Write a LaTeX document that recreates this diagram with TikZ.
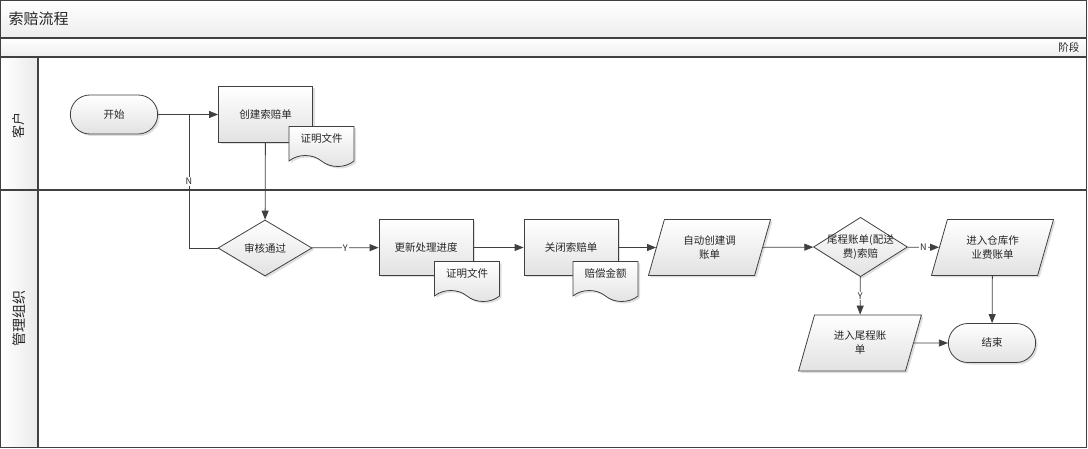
\documentclass[tikz,border=0pt]{standalone}
\usepackage{fontspec}
\setmainfont{Noto Sans CJK SC}
\usetikzlibrary{arrows.meta,positioning,shapes.geometric,shapes.misc,shapes.symbols,shadows}

\definecolor{linegray}{HTML}{404040}
\definecolor{fillgray}{HTML}{E2E2E2}
\definecolor{textgray}{HTML}{262626}

\begin{document}
\begin{tikzpicture}[x=1pt,y=-1pt,font=\fontsize{10.5}{14}\selectfont,text=textgray]

		\tikzstyle{frame}=[draw=linegray,line width=1.1pt]
		\tikzstyle{band}=[top color=white,bottom color=black!7]
		\tikzstyle{lanehead}=[left color=white,right color=black!8]
		\tikzstyle{shade}=[top color=white,bottom color=fillgray,draw=linegray,line width=.8pt,
			drop shadow={shadow xshift=2pt,shadow yshift=-2pt,opacity=.25}]
		\tikzstyle{process}=[rectangle,shade,minimum width=94,minimum height=56,align=center]
		\tikzstyle{terminal}=[rounded rectangle,shade,minimum width=94,minimum height=39]
		\tikzstyle{decision}=[diamond,shade,minimum width=94,minimum height=56,inner sep=-8pt,align=center]
		\tikzstyle{io}=[trapezium,trapezium left angle=71,trapezium right angle=109,trapezium stretches=true,
			shade,minimum width=123,minimum height=56,align=center]
		\tikzstyle{doc}=[tape,tape bend top=none,tape bend bottom=out and in,tape bend height=11pt,
			shade,minimum width=65,minimum height=40,text depth=5pt]
		\tikzstyle{flow}=[draw=linegray,line width=.8pt,-{Triangle[length=9pt,width=7pt]}]
		\tikzstyle{line}=[draw=linegray,line width=.8pt]
		\tikzstyle{tag}=[fill=white,inner sep=1pt,font=\fontsize{9}{10}\selectfont]

		\useasboundingbox (0,0) rectangle (1088,449);

		% swimlane frame
		\fill[band] (0.5,0.5) rectangle (1086.5,38);
		\fill[band] (0.5,38) rectangle (1086.5,57);
		\fill[lanehead] (0.5,57) rectangle (38,447.5);
		\draw[frame] (0.5,0.5) rectangle (1086.5,447.5);
		\draw[frame] (0.5,38) -- (1086.5,38);
		\draw[frame] (0.5,57) -- (1086.5,57);
		\draw[frame] (0.5,190) -- (1086.5,190);
		\draw[frame] (38,57) -- (38,447.5);

		\node[anchor=west,font=\fontsize{15}{18}\selectfont] (title) at (5,19) {索赔流程};
		\node[anchor=east] (phase) at (1083,47.5) {阶段};
		\node[rotate=90,font=\fontsize{13}{16}\selectfont] (lanecust) at (19,126) {客户};
		\node[rotate=90,font=\fontsize{14}{16}\selectfont] (lanemgmt) at (19,318) {管理组织};

		% shapes
		\node[terminal] (start) at (114,114.5) {开始};
		\node[process] (create) at (265.5,114.5) {创建索赔单};
		\node[doc] (proof1) at (321.5,141) {证明文件};

		\node[decision] (check) at (265,248) {审核通过};
		\node[process] (update) at (426,247.5) {更新处理进度};
		\node[doc] (proof2) at (467,276) {证明文件};
		\node[process] (close) at (571,247.5) {关闭索赔单};
		\node[doc] (amount) at (605.5,276) {赔偿金额};
		\node[io] (adjust) at (709.5,247.5) {自动创建调\\账单};
		\node[decision] (tailfee) at (860.5,247) {尾程账单(配送\\费)索赔};
		\node[io] (whfee) at (992.5,247.5) {进入仓库作\\业费账单};
		\node[io] (tailbill) at (860,343) {进入尾程账\\单};
		\node[terminal] (end) at (992,343) {结束};

		\coordinate (njoin) at (189,114.5);

		% connectors
		\draw[flow] (start) -- (create);
		\draw[line] (check.west) -| node[tag,pos=.75] (nocheck) {N} (njoin);
		\draw[flow] (create) -- (check);
		\draw[flow] (check) -- node[tag] (yescheck) {Y} (update);
		\draw[flow] (update) -- (close);
		\draw[flow] (close) -- (adjust);
		\draw[flow] (adjust) -- (tailfee);
		\draw[flow] (tailfee) -- node[tag] (notail) {N} (whfee);
		\draw[flow] (tailfee) -- node[tag] (yestail) {Y} (tailbill);
		\draw[flow] (tailbill) -- (end);
		\draw[flow] (whfee) -- (end);

\end{tikzpicture}
\end{document}
